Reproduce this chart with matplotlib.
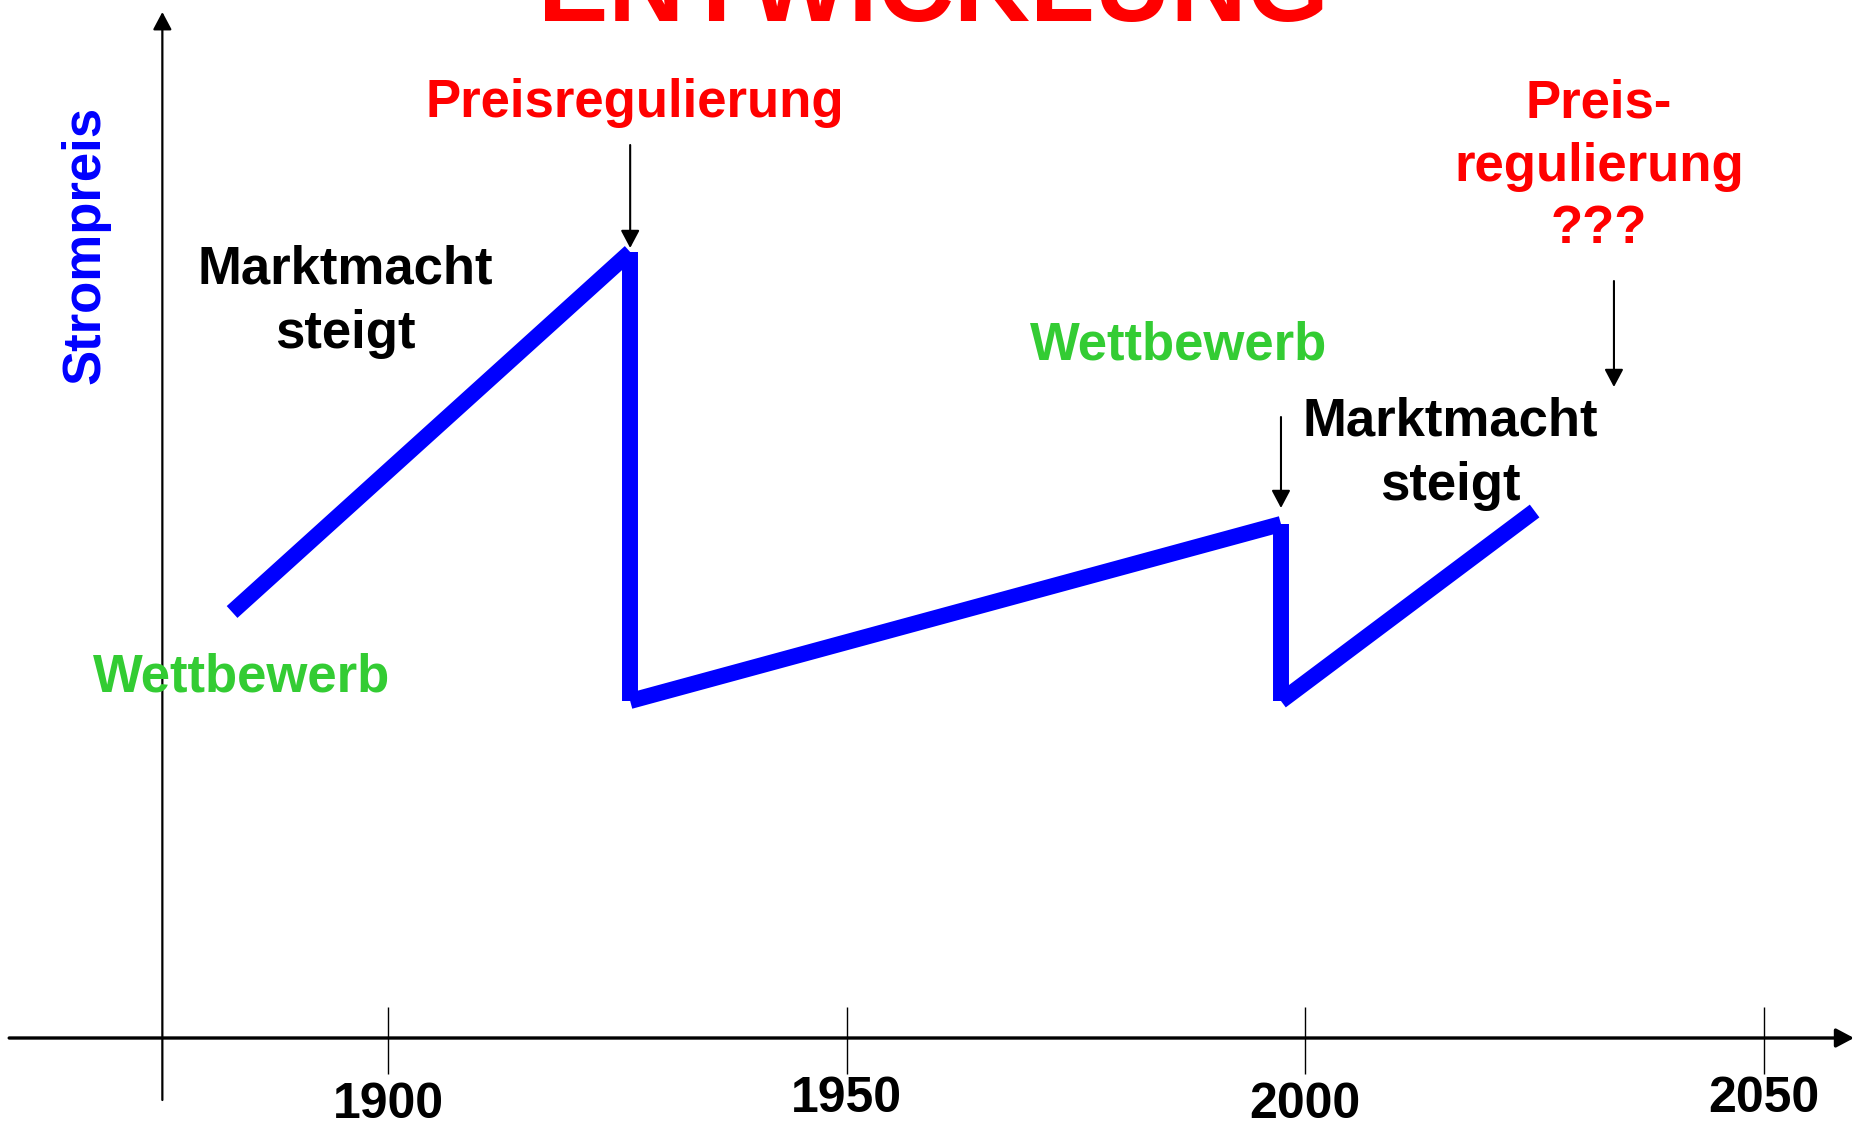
import matplotlib.pyplot as plt

plt.rcParams['font.family'] = ['Liberation Sans', 'DejaVu Sans']

# Strompreis-Verlauf (qualitativ)
years = [1883, 1926.4, 1926.4, 1997.35, 1997.35, 2025]
price = [42.6, 78.6, 33.7, 51.4, 33.7, 52.7]

tick_years = [1900, 1950, 2000, 2050]
tick_labels = ['1900', '1950', '2000', '2050']
label_y = [-6.75, -6.1, -6.75, -6.1]

red = '#FF0000'
green = '#33CC33'
blue = '#0000FF'

fig = plt.figure(figsize=(18.54, 11.27), dpi=100)
ax = fig.add_axes([0, 0, 1, 1])
ax.set_xlim(1857.7, 2059.82)
ax.set_ylim(-8.9, 103.8)
ax.axis('off')

head = '-|>,head_length=0.49,head_width=0.26'

# achsen mit pfeilen
ax.annotate('', xy=(2059.82, 0), xytext=(1858.7, 0),
            arrowprops=dict(arrowstyle=head, color='black', lw=2.4,
                            mutation_scale=22, shrinkA=0, shrinkB=0))
ax.annotate('', xy=(1875.4, 102.6), xytext=(1875.4, -6.2),
            arrowprops=dict(arrowstyle=head, color='black', lw=1.6,
                            mutation_scale=22, shrinkA=0, shrinkB=0))

ax.vlines(tick_years, -3.6, 3.1, color='black', lw=1.0)
for x, lab, y in zip(tick_years, tick_labels, label_y):
    ax.text(x, y, lab, ha='center', va='center', fontsize=36,
            fontweight='bold', color='black')

# jede strecke einzeln, wie im original
for i in range(len(years) - 1):
    ax.plot(years[i:i + 2], price[i:i + 2], color=blue, lw=11.5,
            solid_capstyle='butt')

# beschriftungen
bold = dict(fontsize=38, fontweight='bold', ha='center', va='center')
ax.text(1959.5, 101.7, 'ENTWICKLUNG', color=red, fontsize=76,
        fontweight='bold', ha='center', va='baseline')
ax.text(1867.0, 79.3, 'Strompreis', color=blue, rotation=90, **bold)
ax.text(1926.9, 93.45, 'Preisregulierung', color=red, **bold)
ax.text(1895.3, 73.65, 'Marktmacht\nsteigt', color='black', linespacing=1.375, **bold)
ax.text(1884.0, 36.05, 'Wettbewerb', color=green, **bold)
ax.text(1986.2, 69.25, 'Wettbewerb', color=green, **bold)
ax.text(2015.8, 58.45, 'Marktmacht\nsteigt', color='black', linespacing=1.375, **bold)
ax.text(2032.0, 87.15, 'Preis-\nregulierung\n???', color=red, linespacing=1.33, **bold)

arrow = dict(arrowstyle=head, color='black', lw=1.5, mutation_scale=22,
             shrinkA=0, shrinkB=0)
ax.annotate('', xy=(1926.4, 79.0), xytext=(1926.4, 89.3), arrowprops=arrow)
ax.annotate('', xy=(1997.35, 53.0), xytext=(1997.35, 62.1), arrowprops=arrow)
ax.annotate('', xy=(2033.65, 65.1), xytext=(2033.65, 75.7), arrowprops=arrow)

fig.savefig('out.png', dpi=100)
